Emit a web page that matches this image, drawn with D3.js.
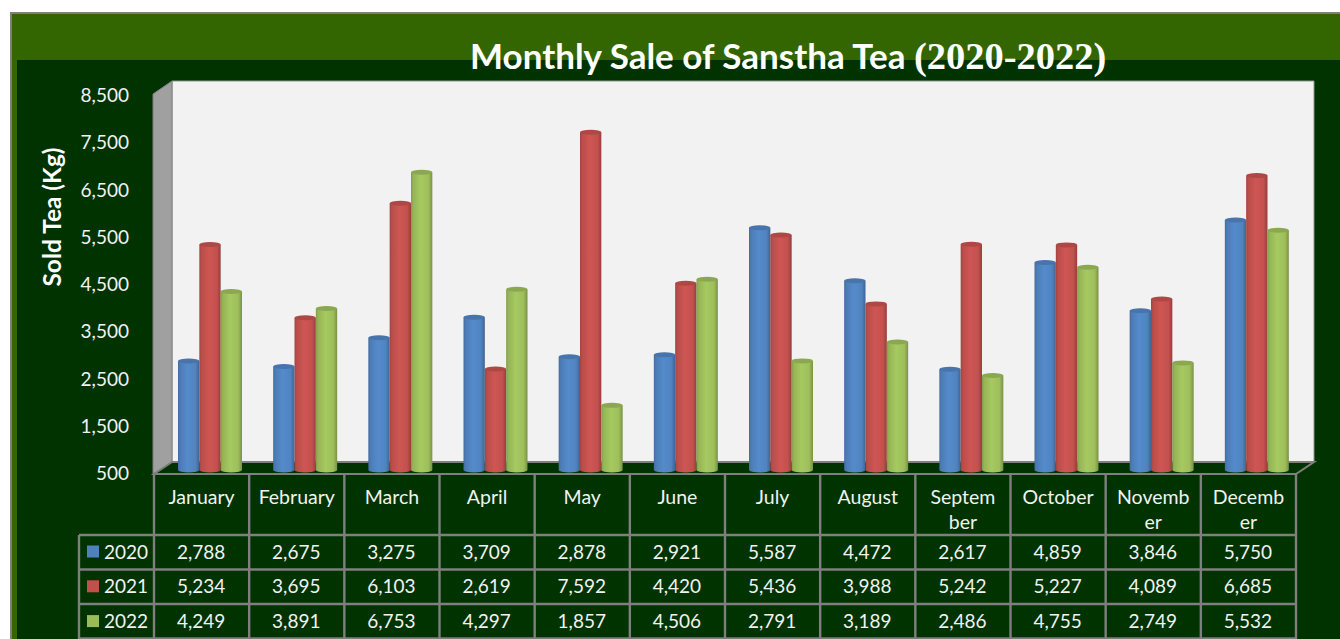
<!DOCTYPE html>
<html><head><meta charset="utf-8">
<script src="https://cdn.jsdelivr.net/npm/d3@7"></script>
<style>html,body{margin:0;padding:0;background:#fff;overflow:hidden}svg{display:block}text{font-family:Lato,sans-serif}</style>
</head><body><svg id="c" width="1340" height="639"></svg>
<script>
const categories=["January","February","March","April","May","June","July","August","September","October","November","December"];
const categoryLines=[["January"],["February"],["March"],["April"],["May"],["June"],["July"],["August"],["Septem","ber"],["October"],["Novemb","er"],["Decemb","er"]];
const seriesNames=["2020","2021","2022"];
const values2020=[2788,2675,3275,3709,2878,2921,5587,4472,2617,4859,3846,5750];
const values2021=[5234,3695,6103,2619,7592,4420,5436,3988,5242,5227,4089,6685];
const values2022=[4249,3891,6753,4297,1857,4506,2791,3189,2486,4755,2749,5532];
const yTicks=[500,1500,2500,3500,4500,5500,6500,7500,8500];
const colors=["#4f81bd","#c0504d","#9bbb59"];
const series=[values2020,values2021,values2022];

const svg=d3.select("#c");
const fmt=d3.format(",");
const FS=19;
const defs=svg.append("defs");
colors.forEach((c,i)=>{
  const g=defs.append("linearGradient").attr("id","g"+i);
  const col=d3.color(c);
  [[0,col.darker(.5)],[.1,col.darker(.1)],[.45,col.brighter(.2)],[.82,col.brighter(.05)],[1,col.darker(.7)]].forEach(([o,k])=>g.append("stop").attr("offset",o).attr("stop-color",k));
});
svg.append("rect").attr("x",11).attr("y",13).attr("width",1340).attr("height",640).attr("fill","#336600").attr("stroke","#7f7f7f").attr("stroke-width",2);
svg.append("rect").attr("x",17).attr("y",60).attr("width",1330).attr("height",590).attr("fill","#003300");
const tableX=d3.scaleBand().domain(categories).range([154,1296]);
const y=d3.scaleLinear().domain([500,8500]).range([470,89]);
const yAxis=d3.scaleLinear().domain([500,8500]).range([473.5,95.5]);
const bandBars=d3.scaleBand().domain(seriesNames).range([24,88]);
svg.append("path").attr("d","M172,81H1314V462H172Z").attr("fill","#f2f2f2").attr("stroke","#8a9a8a").attr("stroke-width",1);
svg.append("path").attr("d","M153,94L172,81V462L153,474Z").attr("fill","#a0a0a0").attr("stroke","#7f7f7f").attr("stroke-width",1);
svg.append("path").attr("d","M154,474L172,462H1314L1296,474Z").attr("fill","#003300").attr("stroke","#7f7f7f").attr("stroke-width",2);
categories.forEach((cat,ci)=>{
  seriesNames.forEach((s,si)=>{
    const x0=tableX(cat)+bandBars(s), w=bandBars.bandwidth(), rx=w/2, ry=2.5;
    const top=y(series[si][ci]), bot=y(500);
    const g=svg.append("g");
    g.append("path").attr("d",`M${x0},${top}V${bot}A${rx},${ry} 0 0 0 ${x0+w},${bot}V${top}Z`).attr("fill",`url(#g${si})`);
    g.append("ellipse").attr("cx",x0+rx).attr("cy",top).attr("rx",rx).attr("ry",ry).attr("fill",d3.color(colors[si]).darker(.3));
  });
});
const ga=svg.append("g").attr("transform","translate(129,0)").call(d3.axisLeft(yAxis).tickValues(yTicks).tickFormat(fmt).tickSize(0).tickPadding(0));
ga.select(".domain").remove();
ga.selectAll("text").attr("fill","#f2f2f2").style("font-size",FS+"px").style("font-family","Lato,sans-serif");
svg.append("text").attr("transform","translate(61,217) rotate(-90)").attr("text-anchor","middle").attr("fill","#fff").attr("font-weight",700).attr("font-size",24.5).text("Sold Tea (Kg)");
const t=svg.append("text").attr("x",470).attr("y",68.5).attr("fill","#fff").attr("font-weight",700).attr("font-size",35);
t.append("tspan").text("Monthly Sale of Sanstha Tea ");
t.append("tspan").style("font-family","'Liberation Serif',serif").attr("font-size",38.5).text("(2020-2022)");
const rows=[535,569.5,604,638.5], line="#7f7f7f";
const L=(a,b,c,d)=>svg.append("line").attr("x1",a).attr("y1",b).attr("x2",c).attr("y2",d).attr("stroke",line).attr("stroke-width",2.4);
rows.forEach(r=>L(79,r,1296,r));
L(79,535,79,639);
categories.forEach((c,i)=>L(tableX(c),474,tableX(c),639));
L(1296,474,1296,639);
categories.forEach((c,i)=>{
  const cx=tableX(c)+tableX.bandwidth()/2;
  categoryLines[i].forEach((ln,k)=>svg.append("text").attr("x",cx).attr("y",503.5+k*25.5).attr("text-anchor","middle").attr("fill","#f2f2f2").attr("font-size",19.5).text(ln));
  series.forEach((v,si)=>svg.append("text").attr("x",cx-0.5).attr("y",558.5+si*34.8).attr("text-anchor","middle").attr("fill","#f2f2f2").attr("font-size",FS).text(fmt(v[i])));
});
seriesNames.forEach((s,si)=>{
  const yy=558.5+si*34.8;
  svg.append("rect").attr("x",87).attr("y",yy-13).attr("width",12).attr("height",12).attr("fill",colors[si]);
  svg.append("text").attr("x",104).attr("y",yy).attr("fill","#f2f2f2").attr("font-size",FS).text(s);
});
</script></body></html>
